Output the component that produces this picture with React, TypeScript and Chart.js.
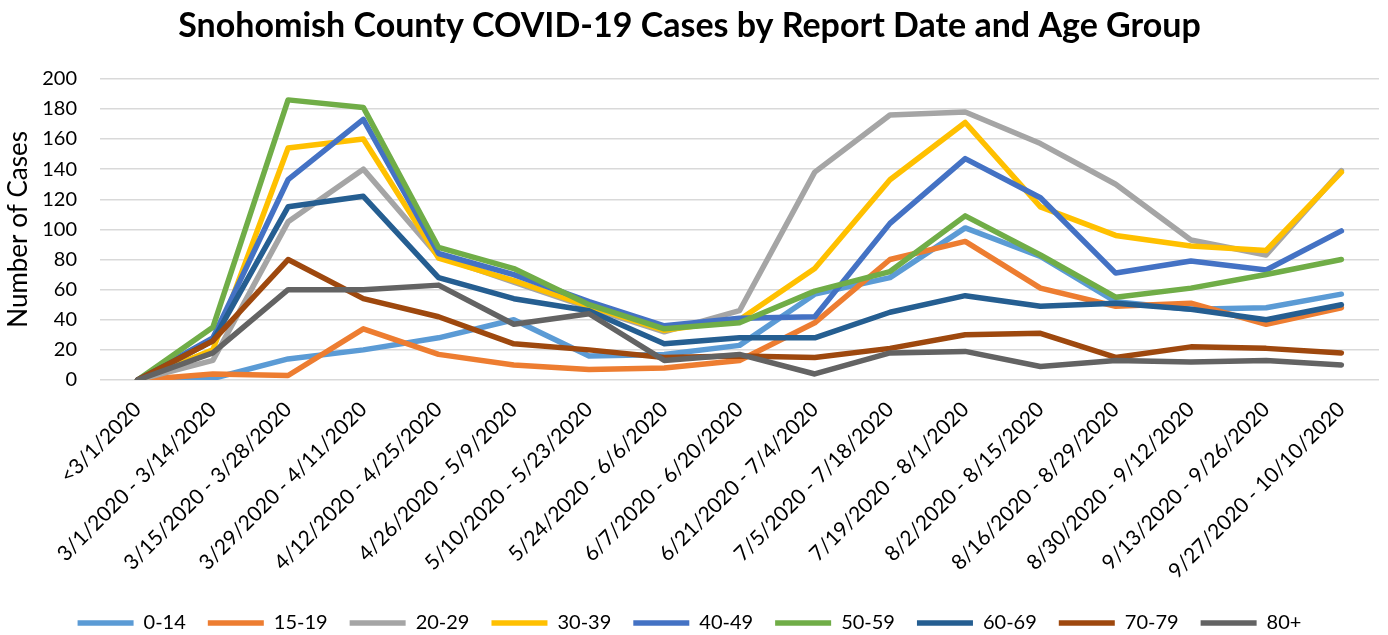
import React, { useEffect, useRef } from "react";
import { Chart, registerables } from "chart.js";

Chart.register(...registerables);

const FONT = "Lato";

const categories = [
  "<3/1/2020",
  "3/1/2020 - 3/14/2020",
  "3/15/2020 - 3/28/2020",
  "3/29/2020 - 4/11/2020",
  "4/12/2020 - 4/25/2020",
  "4/26/2020 - 5/9/2020",
  "5/10/2020 - 5/23/2020",
  "5/24/2020 - 6/6/2020",
  "6/7/2020 - 6/20/2020",
  "6/21/2020 - 7/4/2020",
  "7/5/2020 - 7/18/2020",
  "7/19/2020 - 8/1/2020",
  "8/2/2020 - 8/15/2020",
  "8/16/2020 - 8/29/2020",
  "8/30/2020 - 9/12/2020",
  "9/13/2020 - 9/26/2020",
  "9/27/2020 - 10/10/2020",
];

const ageGroups = ["0-14", "15-19", "20-29", "30-39", "40-49", "50-59", "60-69", "70-79", "80+"];
const colors = ["#5B9BD5", "#ED7D31", "#A5A5A5", "#FFC000", "#4472C4", "#70AD47", "#255E91", "#9E480E", "#636363"];

const age0to14 = [0, 1, 14, 20, 28, 40, 16, 17, 23, 57, 68, 101, 82, 52, 47, 48, 57];
const age15to19 = [0, 4, 3, 34, 17, 10, 7, 8, 13, 38, 80, 92, 61, 49, 51, 37, 48];
const age20to29 = [0, 13, 105, 140, 82, 65, 48, 32, 46, 138, 176, 178, 157, 130, 93, 83, 139];
const age30to39 = [0, 20, 154, 160, 81, 66, 49, 33, 40, 74, 133, 171, 115, 96, 89, 86, 138];
const age40to49 = [0, 28, 133, 173, 84, 70, 52, 36, 41, 42, 104, 147, 121, 71, 79, 73, 99];
const age50to59 = [0, 35, 186, 181, 88, 74, 50, 34, 38, 59, 72, 109, 83, 55, 61, 70, 80];
const age60to69 = [0, 26, 115, 122, 68, 54, 46, 24, 28, 28, 45, 56, 49, 51, 47, 40, 50];
const age70to79 = [0, 26, 80, 54, 42, 24, 20, 15, 16, 15, 21, 30, 31, 15, 22, 21, 18];
const age80plus = [0, 18, 60, 60, 63, 37, 44, 13, 17, 4, 18, 19, 9, 13, 12, 13, 10];

const yMin = 0;
const yMax = 200;
const yStep = 20;

export default function App() {
  const ref = useRef<HTMLCanvasElement>(null);

  useEffect(() => {
    const series = [age0to14, age15to19, age20to29, age30to39, age40to49, age50to59, age60to69, age70to79, age80plus];
    const chart = new Chart(ref.current as HTMLCanvasElement, {
      type: "line",
      data: {
        labels: categories,
        datasets: ageGroups.map((g, i) => ({
          label: g,
          data: series[i],
          borderColor: colors[i],
          backgroundColor: colors[i],
          borderWidth: 5.5,
          pointRadius: 0,
          pointHoverRadius: 0,
          tension: 0,
          fill: false,
          borderCapStyle: "round" as const,
          borderJoinStyle: "round" as const,
          order: ageGroups.length - i,
        })),
      },
      options: {
        animation: false,
        responsive: true,
        maintainAspectRatio: false,
        layout: { padding: { left: 0, right: 9, top: 0, bottom: -8 } },
        plugins: {
          title: {
            display: true,
            text: "Snohomish County COVID-19 Cases by Report Date and Age Group",
            font: { family: FONT, size: 34, weight: "bold" },
            color: "#000",
            padding: { top: 6, bottom: 32 },
          },
          legend: {
            position: "bottom",
            labels: {
              usePointStyle: true,
              pointStyle: "line",
              pointStyleWidth: 56,
              font: { family: FONT, size: 20 },
              color: "#000",
              padding: 22,
              sort: (a: any, b: any) => a.datasetIndex - b.datasetIndex,
            },
          },
          tooltip: { enabled: false },
        },
        scales: {
          x: {
            offset: true,
            grid: { display: false },
            border: { display: false },
            ticks: {
              autoSkip: false,
              minRotation: 45,
              maxRotation: 45,
              font: { family: FONT, size: 21 },
              color: "#000",
              padding: 9,
            },
            afterFit: (s: any) => {
              s.height = 211;
            },
          },
          y: {
            min: yMin,
            max: yMax,
            ticks: {
              stepSize: yStep,
              font: { family: FONT, size: 20 },
              color: "#000",
              padding: 23,
            },
            grid: { color: "#d9d9d9", lineWidth: 1.5, drawTicks: false },
            border: { display: false },
            title: {
              display: true,
              text: "Number of Cases",
              font: { family: FONT, size: 26 },
              color: "#000",
              padding: { top: 3, bottom: 0 },
            },
            afterFit: (s: any) => {
              s.width = 100;
            },
          },
        },
      },
    });
    return () => chart.destroy();
  }, []);

  return (
    <div style={{ position: "absolute", left: 0, top: 0, width: 1388, height: 635 }}>
      <canvas ref={ref} />
    </div>
  );
}
